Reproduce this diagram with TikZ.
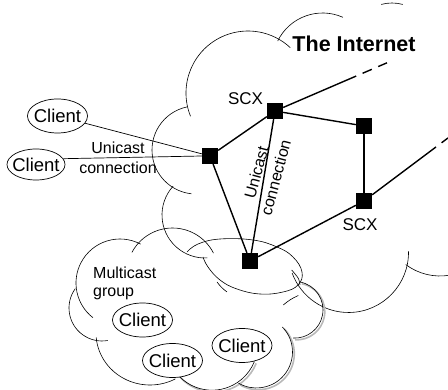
\documentclass[tikz,border=0pt]{standalone}
\usepackage{fontspec}
\setmainfont{Liberation Sans}
\usetikzlibrary{shapes.geometric}
\tikzset{
  client/.style={draw, ellipse, fill=white, line width=0.7pt, inner xsep=-8pt, inner ysep=0pt,
    minimum width=60pt, minimum height=34pt, font=\fontsize{18.5}{20}\selectfont},
  router/.style={fill=black, minimum size=16pt, inner sep=0pt},
  link/.style={line width=1.4pt},
  access/.style={line width=0.7pt},
  cloudarc/.style={line width=0.6pt},
  cloudshadow/.style={gray!55, line width=1.6pt},
  lbl/.style={font=\fontsize{16}{20}\selectfont, align=center, inner sep=0pt}
}
\begin{document}
\begin{tikzpicture}[x=1pt, y=-1pt]
\useasboundingbox (0,0) rectangle (448,390);
% The Internet cloud
\draw[cloudarc] ([shift={(248,93)}]158:62) arc[start angle=158, end angle=313, radius=62];
\draw[cloudarc] ([shift={(322.6,63)}]206:50) arc[start angle=206, end angle=294, radius=50];
\draw[cloudarc] ([shift={(392,45)}]255:42) arc[start angle=255, end angle=285, radius=42];
\draw[cloudarc] ([shift={(196,150)}]258:44) arc[start angle=258, end angle=96, radius=44];
\draw[cloudarc] ([shift={(205,215)}]222:43) arc[start angle=222, end angle=87, radius=43];
\draw[cloudarc] ([shift={(348.5,252.5)}]-1:60) arc[start angle=-1, end angle=160, radius=60];
\draw[cloudarc] ([shift={(440,219)}]127:57) arc[start angle=127, end angle=80, radius=57];
% Multicast group cloud, shadow first
\begin{scope}[cloudshadow, shift={(1.8,1.8)}]
\draw ([shift={(212,344.5)}]140:45.7) arc[start angle=140, end angle=22, radius=45.7];
\draw ([shift={(256.5,352)}]-44:36) arc[start angle=-44, end angle=120, radius=36];
\draw ([shift={(294.7,309.8)}]-79:28.3) arc[start angle=-79, end angle=93, radius=28.3];
\end{scope}
\draw[cloudarc] ([shift={(172.5,274)}]208:46) arc[start angle=208, end angle=333, radius=46];
\draw[cloudarc] ([shift={(120,283)}]298:44) arc[start angle=298, end angle=128, radius=44];
\draw[cloudarc] ([shift={(102,308)}]216:33) arc[start angle=216, end angle=80, radius=33];
\draw[cloudarc] ([shift={(150,333)}]175:54 and 52) arc[start angle=175, end angle=62, x radius=54, y radius=52];
\draw[cloudarc] ([shift={(212,344.5)}]140:45.7) arc[start angle=140, end angle=22, radius=45.7];
\draw[cloudarc] ([shift={(256.5,352)}]-44:36) arc[start angle=-44, end angle=120, radius=36];
\draw[cloudarc] ([shift={(294.7,309.8)}]-79:28.3) arc[start angle=-79, end angle=93, radius=28.3];
\draw[cloudarc] plot[smooth, tension=0.7] coordinates {(187,252) (198,244) (220,239) (253,240) (277,247) (293,257) (302,272) (298,285) (283,292) (260,294) (237,289) (220,280) (208,267) (203,257)};
\draw[cloudarc] (217,282) to[bend right=8] (227,292);
\draw[cloudarc] plot[smooth] coordinates {(291.7,270) (298.3,278.3) (300,285)};
\draw[cloudarc] (283.3,305) to[bend left=8] (298.3,295.5);
% SCX routers
\node[router] (sa) at (210,156) {};
\node[router] (sb) at (275,111) {};
\node[router] (sc) at (364,126) {};
\node[router] (sd) at (364,201) {};
\node[router] (se) at (250,261) {};
\coordinate (bout) at (347,80);
\coordinate (bfar) at (387,62.8);
\coordinate (dout) at (428,153);
\coordinate (dfar) at (448,138);
\draw[link] (sa) -- (sb);
\draw[link] (sa) -- (se);
\draw[link] (sb) -- (se);
\draw[link] (sb) -- (sc);
\draw[link] (sc) -- (sd);
\draw[link] (sd) -- (se);
\draw[link] (sb) -- (bout);
\draw[link, dash pattern=on 10pt off 7pt] (bout) -- (bfar);
\draw[link] (sd) -- (dout);
\draw[link, dash pattern=on 10pt off 7pt] (dout) -- (dfar);
% clients
\node[client] (c1) at (57.5,116) {Client};
\node[client, minimum width=58pt, minimum height=31pt] (c2) at (36,164.5) {Client};
\node[client] (c3) at (142.5,320) {Client};
\node[client] (c4) at (172.5,360.5) {Client};
\node[client] (c5) at (242,345.5) {Client};
\draw[access] (c1) -- (sa);
\draw[access] (c2.12) -- (sa.west);
% labels
\node[lbl] (uleft) at (118,158) {Unicast\\connection};
\node[lbl, rotate=75] (umid) at (266,175) {Unicast\\connection};
\node[lbl, font=\fontsize{17}{20}\selectfont] (scxb) at (245.5,98.5) {SCX};
\node[lbl, font=\fontsize{17}{20}\selectfont] (scxd) at (360,224.5) {SCX};
\node[lbl, font=\fontsize{21.5}{24}\selectfont\bfseries] (inet) at (354,44) {The Internet};
\node[lbl, align=left, anchor=north west, font=\fontsize{16}{18}\selectfont] (mgroup) at (93,267) {Multicast\\group};
\end{tikzpicture}
\end{document}
